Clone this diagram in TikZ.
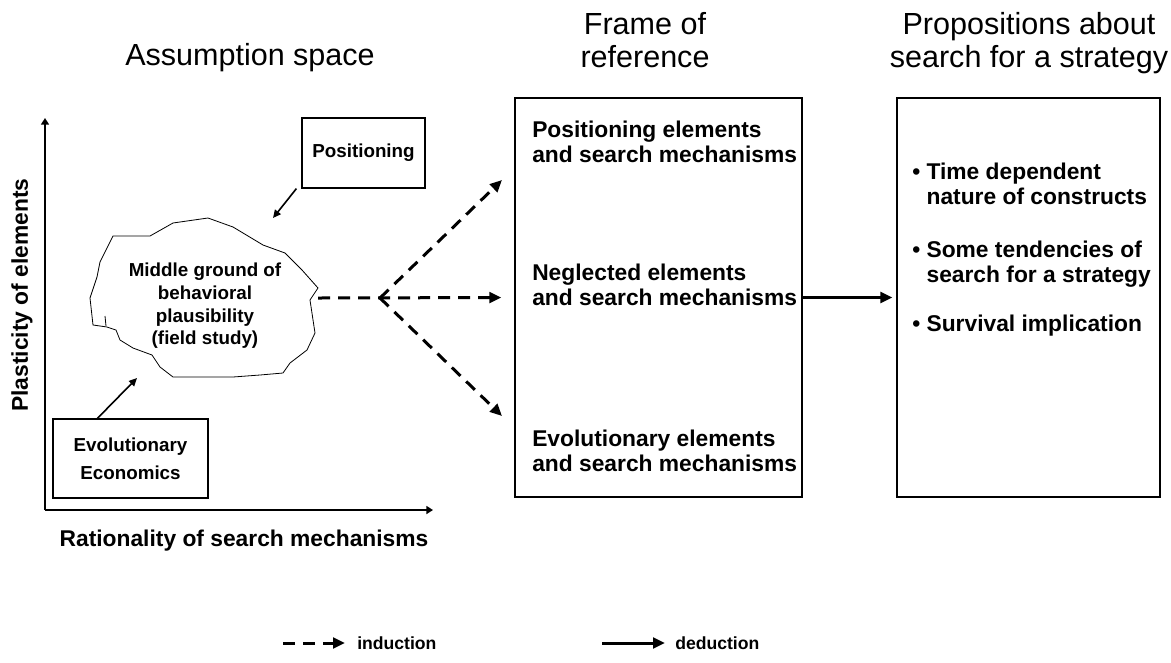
\documentclass[tikz,border=0pt]{standalone}
\usepackage{fontspec}
\setmainfont{Liberation Sans}
\usetikzlibrary{arrows.meta}
\usetikzlibrary{positioning}

\tikzset{
    title/.style={font=\fontsize{22.9}{24.75}\selectfont, align=center, inner sep=0pt},
    boldtext/.style={font=\bfseries\fontsize{17.1}{18.75}\selectfont, align=left, inner sep=0pt},
    smalltext/.style={font=\bfseries\fontsize{14.1}{17}\selectfont, align=center, inner sep=0pt},
    legtext/.style={font=\bfseries\fontsize{13.2}{15}\selectfont, inner sep=0pt},
    panel/.style={draw, line width=0.9pt, inner sep=0pt},
    induct/.style={line width=2.25pt, dash pattern=on 9pt off 6pt},
    deduct/.style={line width=2.25pt},
    tip/.style={-{Triangle[length=9pt,width=8pt]}},
    axis/.style={line width=1.5pt, -{Triangle[length=5pt,width=6pt]}},
    pointer/.style={line width=1.2pt, -{Triangle[length=6pt,width=5.5pt]}}
}

\begin{document}
\begin{tikzpicture}[x=0.75pt,y=-0.75pt]
    \useasboundingbox (0,0) rectangle (1171,662);

    %% titles
    \node[title] (tassume) at (250,58) {Assumption space};
    \node[title] (tframe) at (645,40) {Frame of\\reference};
    \node[title] (tprop) at (1029,43) {Propositions about\\search for a strategy};

    %% axes
    \coordinate (origin) at (45,510);
    \draw[axis] (origin) -- (45,118);
    \draw[axis] (origin) -- (433,510);
    \node[boldtext, rotate=90] (ylab) at (22,295) {Plasticity of elements};
    \node[boldtext] (xlab) at (244,541) {Rationality of search mechanisms};

    %% cloud
    \draw[line width=0.6pt] (113,236) -- (150,236) -- (173,223) -- (208,218)
        -- (233,227) -- (263,245) -- (285,253) -- (302,270) -- (318,288)
        -- (310,300) -- (315,333) -- (307,350) -- (290,363) -- (283,373)
        -- (260,375) -- (233,377) -- (173,377) -- (160,367) -- (152,355)
        -- (133,348) -- (120,340) -- (116,330) -- (107,327) -- (93,325)
        -- (90,298) -- (97,277) -- (100,262) -- cycle;
    \draw[line width=0.6pt] (105,316) -- (106,326);
    \node[smalltext] (cloud) at (205,306) {Middle ground of\\behavioral\\plausibility\\(field study)};
    \coordinate (cloudNE) at (273,218);
    \coordinate (cloudSW) at (137,378);
    \coordinate (cloudE) at (318,298);

    %% boxes in the assumption space
    \node[panel, smalltext, minimum width=92.25pt, minimum height=52.5pt] (posbox) at (363.5,153) {Positioning};
    \node[panel, smalltext, font=\bfseries\fontsize{14.1}{21}\selectfont,
          minimum width=116.25pt, minimum height=59.25pt] (evobox) at (130.5,458.5) {Evolutionary\\Economics};
    \draw[pointer] ([xshift=-3.75pt]posbox.south west) -- (cloudNE);
    \draw[pointer] ([xshift=33.75pt]evobox.north west) -- (cloudSW);

    %% frame of reference
    \node[panel, minimum width=215.25pt, minimum height=299.25pt] (frame) at (658.5,297.5) {};
    \node[boldtext, anchor=west] (posel) at (532,142) {Positioning elements\\and search mechanisms};
    \node[boldtext, anchor=west] (negel) at (532,285) {Neglected elements\\and search mechanisms};
    \node[boldtext, anchor=west] (evoel) at (532,451) {Evolutionary elements\\and search mechanisms};

    %% induction arrows
    \coordinate (split) at (380,298);
    \coordinate (upTip) at (502,180);
    \coordinate (downTip) at (502,416);
    \draw[induct, tip, shorten >=9.75pt] (cloudE) -- (frame.west);
    \draw[induct, tip] (split) -- (upTip);
    \draw[induct, tip] (split) -- (downTip);

    %% propositions
    \node[panel, minimum width=197.25pt, minimum height=299.25pt] (propbox) at (1028.5,297.5) {};
    \draw[deduct, tip, shorten >=3pt] (frame.east) -- (propbox.west);
    \node[boldtext, anchor=west] (prop1) at (912,184) {\textbullet\ Time dependent\\\phantom{\textbullet\ }nature of constructs};
    \node[boldtext, anchor=west] (prop2) at (912,264) {\textbullet\ Some tendencies of\\\phantom{\textbullet\ }search for a strategy};
    \node[boldtext, anchor=west] (prop3) at (912,326) {\textbullet\ Survival implication};

    %% legend
    \coordinate (indS) at (283,643);
    \coordinate (indE) at (345,643);
    \draw[induct, tip] (indS) -- (indE);
    \node[legtext, right=9pt of indE] (indlab) {induction};
    \coordinate (dedS) at (602,643);
    \coordinate (dedE) at (665,643);
    \draw[deduct, tip] (dedS) -- (dedE);
    \node[legtext, right=7.5pt of dedE] (dedlab) {deduction};
\end{tikzpicture}
\end{document}
